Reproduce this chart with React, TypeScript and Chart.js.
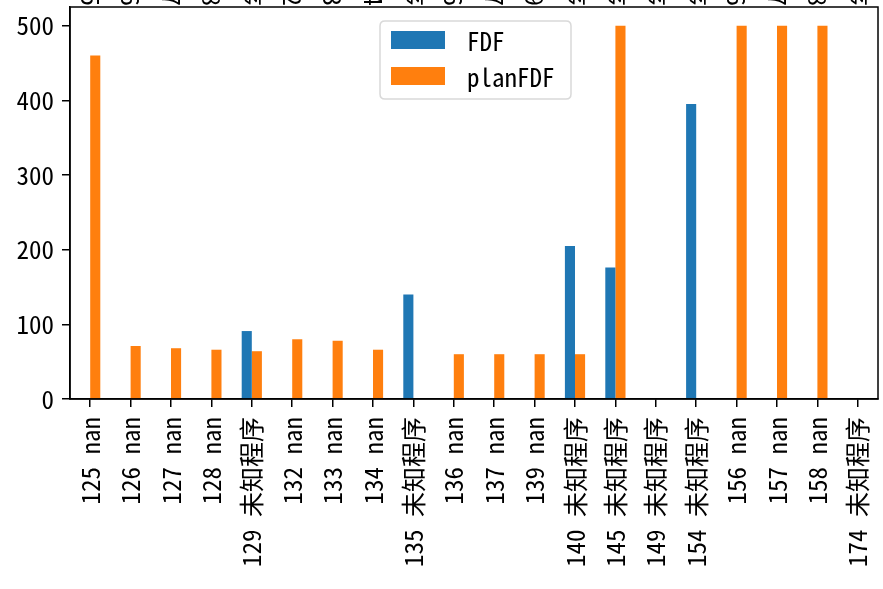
import React, { useEffect, useRef } from "react";
import { Chart, registerables } from "chart.js";

Chart.register(...registerables);

const ids = ["125", "126", "127", "128", "129", "132", "133", "134", "135", "136", "137", "139", "140", "145", "149", "154", "156", "157", "158", "174"];
const names = ["nan", "nan", "nan", "nan", "未知程序", "nan", "nan", "nan", "未知程序", "nan", "nan", "nan", "未知程序", "未知程序", "未知程序", "未知程序", "nan", "nan", "nan", "未知程序"];
const fdf = [null, null, null, null, 91, null, null, null, 140, null, null, null, 205, 176, null, 395, null, null, null, null];
const planFdf = [460, 71, 68, 66, 64, 80, 78, 66, null, 60, 60, 60, 60, 500, null, null, 500, 500, 500, null];
const yTicks = [0, 100, 200, 300, 400, 500];

const FONT = '"Noto Sans Mono CJK SC", "Noto Sans CJK SC", "DejaVu Sans", sans-serif';

const framePlugin = {
  id: "frame",
  afterDraw(chart: any) {
    const { ctx, chartArea } = chart;
    ctx.save();
    ctx.strokeStyle = "#000";
    ctx.lineWidth = 1.5;
    ctx.strokeRect(chartArea.left, chartArea.top, chartArea.right - chartArea.left, chartArea.bottom - chartArea.top);
    ctx.restore();
  },
};

// labels of the clipped secondary axis above the plot (only their ends show)
const topLabelsPlugin = {
  id: "topLabels",
  afterDraw(chart: any) {
    const { ctx, chartArea } = chart;
    const xs = chart.scales.x;
    ctx.save();
    ctx.font = `25px ${FONT}`;
    ctx.fillStyle = "#000";
    ctx.textAlign = "right";
    ctx.textBaseline = "middle";
    ids.forEach((id, i) => {
      const txt = names[i] === "nan" ? id : names[i];
      ctx.save();
      ctx.translate(xs.getPixelForValue(i), chartArea.top - 1);
      ctx.rotate(Math.PI / 2);
      ctx.fillText(txt, 0, 0);
      ctx.restore();
    });
    ctx.restore();
  },
};

const legendPlugin = {
  id: "mplLegend",
  afterDraw(chart: any) {
    const { ctx } = chart;
    const x = 380, y = 21, w = 191, h = 78, r = 5;
    ctx.save();
    ctx.beginPath();
    ctx.moveTo(x + r, y);
    ctx.lineTo(x + w - r, y);
    ctx.quadraticCurveTo(x + w, y, x + w, y + r);
    ctx.lineTo(x + w, y + h - r);
    ctx.quadraticCurveTo(x + w, y + h, x + w - r, y + h);
    ctx.lineTo(x + r, y + h);
    ctx.quadraticCurveTo(x, y + h, x, y + h - r);
    ctx.lineTo(x, y + r);
    ctx.quadraticCurveTo(x, y, x + r, y);
    ctx.closePath();
    ctx.fillStyle = "rgba(255,255,255,0.8)";
    ctx.fill();
    ctx.strokeStyle = "#d9d9d9";
    ctx.lineWidth = 1.5;
    ctx.stroke();
    ctx.font = `25px ${FONT}`;
    ctx.textBaseline = "middle";
    ctx.textAlign = "left";
    chart.data.datasets.forEach((ds: any, i: number) => {
      const cy = y + 19 + i * 36;
      ctx.fillStyle = ds.backgroundColor;
      ctx.fillRect(x + 11, cy - 9, 54, 18);
      ctx.fillStyle = "#000";
      ctx.fillText(ds.label, x + 87, cy + 1);
    });
    ctx.restore();
  },
};

export default function App() {
  const ref = useRef<HTMLCanvasElement>(null);
  useEffect(() => {
    const chart = new Chart(ref.current!, {
      type: "bar",
      data: {
        labels: ids.map((id, i) => `${id} ${names[i]}`),
        datasets: [
          { label: "FDF", data: fdf, backgroundColor: "#1f77b4", categoryPercentage: 0.5, barPercentage: 1.0 },
          { label: "planFDF", data: planFdf, backgroundColor: "#ff7f0e", categoryPercentage: 0.5, barPercentage: 1.0 },
        ],
      },
      options: {
        responsive: false,
        animation: false,
        devicePixelRatio: 1,
        layout: { padding: { top: 7, right: 5, left: 0, bottom: 0 } },
        plugins: { legend: { display: false }, tooltip: { enabled: false } },
        scales: {
          x: {
            grid: { display: true, offset: false, drawOnChartArea: false, drawTicks: true, tickLength: 8, color: "#000", lineWidth: 1.5 },
            border: { display: true, color: "#000", width: 1.5 },
            ticks: {
              autoSkip: false,
              minRotation: 90,
              maxRotation: 90,
              padding: 10,
              color: "#000",
              font: { family: FONT, size: 25 },
            },
            afterFit(scale: any) {
              scale.height = 190;
              scale.paddingLeft = 0;
              scale.paddingRight = 0;
            },
          },
          y: {
            min: 0,
            max: 525,
            afterBuildTicks(scale: any) {
              scale.ticks = yTicks.map((v) => ({ value: v }));
            },
            grid: { display: true, drawOnChartArea: false, drawTicks: true, tickLength: 8, color: "#000", lineWidth: 1.5 },
            border: { display: true, color: "#000", width: 1.5 },
            ticks: {
              padding: 8,
              color: "#000",
              font: { family: FONT, size: 25 },
            },
            afterFit(scale: any) {
              scale.width = 70;
              scale.paddingTop = 0;
              scale.paddingBottom = 0;
            },
          },
        },
      },
      plugins: [framePlugin, topLabelsPlugin, legendPlugin],
    } as any);
    return () => chart.destroy();
  }, []);
  return (
    <div style={{ position: "absolute", left: 0, top: 0, width: 883, height: 589, background: "#fff" }}>
      <canvas ref={ref} width={883} height={589} />
    </div>
  );
}
